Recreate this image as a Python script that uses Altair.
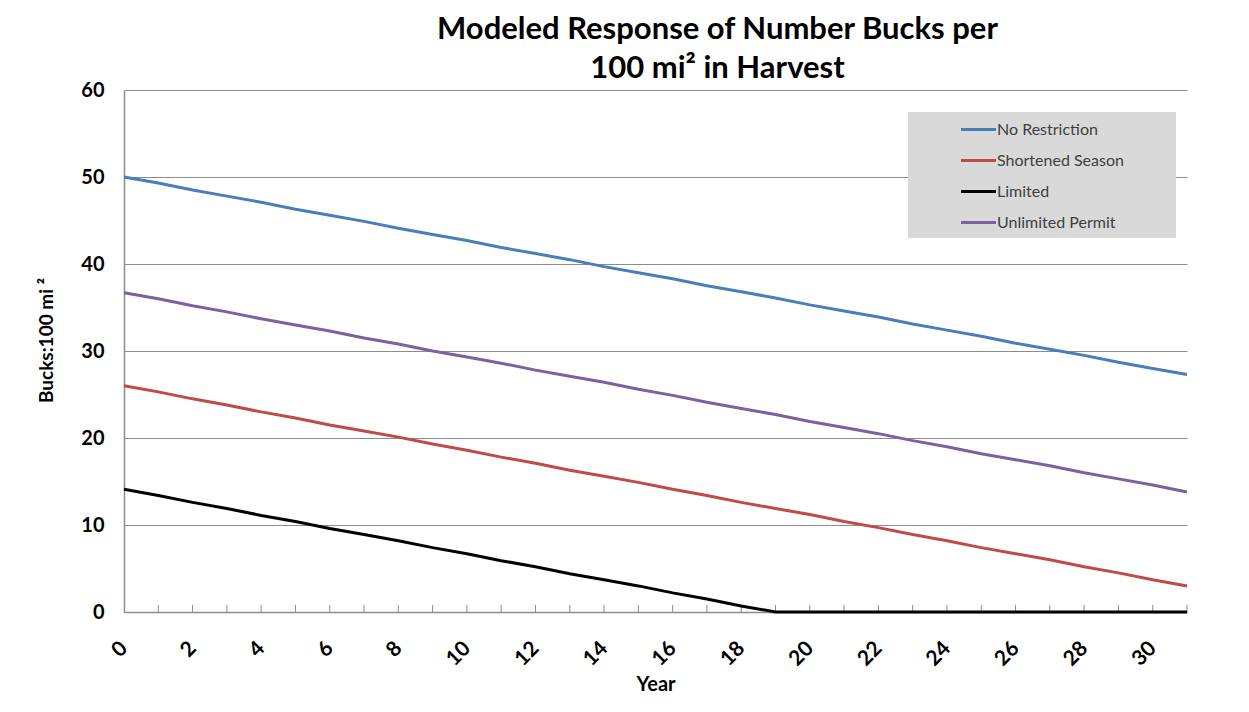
import altair as alt
import pandas as pd

years = list(range(32))
no_restriction = [50.0, 49.3, 48.5, 47.8, 47.1, 46.3, 45.6, 44.9, 44.1, 43.4, 42.7, 41.9, 41.2, 40.5, 39.7, 39.0,
                  38.3, 37.5, 36.8, 36.1, 35.3, 34.6, 33.9, 33.1, 32.4, 31.7, 30.9, 30.2, 29.5, 28.7, 28.0, 27.3]
shortened_season = [26.0, 25.3, 24.5, 23.8, 23.0, 22.3, 21.5, 20.8, 20.1, 19.3, 18.6, 17.8, 17.1, 16.3, 15.6, 14.9,
                    14.1, 13.4, 12.6, 11.9, 11.2, 10.4, 9.7, 8.9, 8.2, 7.4, 6.7, 6.0, 5.2, 4.5, 3.7, 3.0]
limited = [14.1, 13.4, 12.6, 11.9, 11.1, 10.4, 9.6, 8.9, 8.2, 7.4, 6.7, 5.9, 5.2, 4.4, 3.7, 3.0,
           2.2, 1.5, 0.7, 0.0, 0.0, 0.0, 0.0, 0.0, 0.0, 0.0, 0.0, 0.0, 0.0, 0.0, 0.0, 0.0]
unlimited_permit = [36.7, 36.0, 35.2, 34.5, 33.7, 33.0, 32.3, 31.5, 30.8, 30.0, 29.3, 28.6, 27.8, 27.1, 26.4, 25.6,
                    24.9, 24.1, 23.4, 22.7, 21.9, 21.2, 20.5, 19.7, 19.0, 18.2, 17.5, 16.8, 16.0, 15.3, 14.6, 13.8]

series_names = ["No Restriction", "Shortened Season", "Limited", "Unlimited Permit"]
series_colors = ["#4a7ebb", "#be4b48", "#000000", "#7d60a0"]
x_label_values = list(range(0, 31, 2))
x_minor_ticks = list(range(1, 32))
y_label_values = [0, 10, 20, 30, 40, 50, 60]

rows = []
for name, vals in zip(series_names, [no_restriction, shortened_season, limited, unlimited_permit]):
    for yr, v in zip(years, vals):
        rows.append({"Year": yr, "Series": name, "Bucks": v})
df = pd.DataFrame(rows)
ticks_df = pd.DataFrame({"Year": x_minor_ticks})

W, H = 1063, 522
FONT = "Lato"
PAD_LABEL = "datum.label + '" + "\u00a0" * 11 + "\u200b'"

x_enc = alt.X("Year:Q",
              scale=alt.Scale(domain=[0, 31], nice=False, zero=False),
              axis=alt.Axis(values=x_label_values, labelAngle=-45, labelAlign="right",
                            labelBaseline="middle", labelPadding=33, ticks=False, grid=False,
                            labelFontSize=21, labelFontWeight="bold", labelColor="#000000",
                            domainColor="#8c8c8c", domainWidth=1.5,
                            title="Year", titleFontSize=20, titleFontWeight="bold",
                            titlePadding=5, titleColor="#000000"))

lines = alt.Chart(df).mark_line(strokeWidth=3).encode(
    x=x_enc,
    y=alt.Y("Bucks:Q",
            scale=alt.Scale(domain=[0, 60], nice=False),
            axis=alt.Axis(values=y_label_values, ticks=False, grid=True, gridColor="#8c8c8c",
                          gridWidth=1, labelPadding=20, labelFontSize=20, labelFontWeight="bold",
                          labelColor="#000000", domainColor="#8c8c8c", domainWidth=1.5,
                          title="Bucks:100 mi ²", titleFontSize=19, titleFontWeight="bold",
                          titlePadding=24, titleY=250, titleColor="#000000")),
    color=alt.Color("Series:N",
                    scale=alt.Scale(domain=series_names, range=series_colors),
                    sort=series_names,
                    legend=alt.Legend(orient="none", legendX=784, legendY=22, title=None,
                                      fillColor="#d9d9d9", padding=7, rowPadding=12,
                                      symbolType="M-2,0H2", symbolSize=306, symbolStrokeWidth=3,
                                      symbolFillColor="transparent", symbolOffset=53,
                                      labelOffset=8, labelFontSize=16, labelColor="#404040",
                                      labelLimit=400, labelExpr=PAD_LABEL)),
)

ticks = alt.Chart(ticks_df).mark_rule(color="#8c8c8c", strokeWidth=1).encode(
    x=x_enc,
    y=alt.value(H - 7),
    y2=alt.value(H),
)

chart = alt.layer(ticks, lines).properties(
    width=W, height=H,
    title=alt.TitleParams(text=["Modeled Response of Number Bucks per", "100 mi² in Harvest"],
                          fontSize=31, fontWeight="bold", lineHeight=39, dx=62, offset=-5,
                          anchor="middle", color="#000000", font=FONT),
    autosize=alt.AutoSizeParams(type="none"),
    padding={"left": 116, "top": 82, "right": 54, "bottom": 95},
).configure(font=FONT, background="#ffffff").configure_view(stroke=None)

chart.save("out.html", embed_options={"renderer": "svg", "actions": False})
